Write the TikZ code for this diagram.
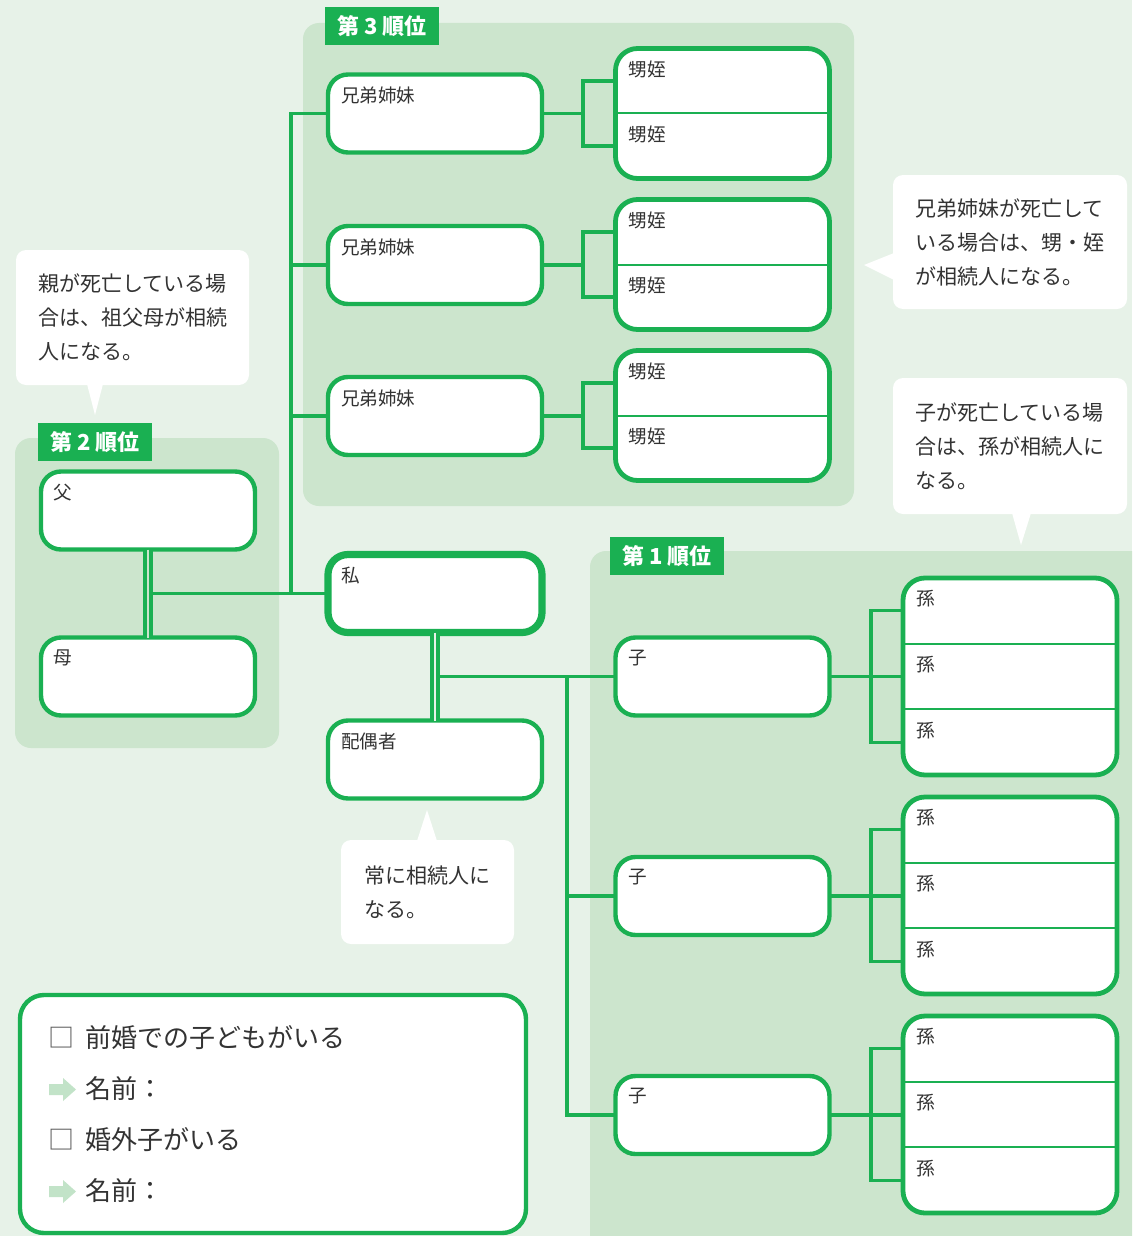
\documentclass[tikz,border=0pt]{standalone}
\usepackage{fontspec}
\setmainfont{Noto Sans CJK JP}
\usetikzlibrary{positioning,calc}

\definecolor{bgcol}{HTML}{E7F2E8}
\definecolor{panelcol}{HTML}{CCE5CD}
\definecolor{linecol}{HTML}{1AB052}
\definecolor{inkcol}{HTML}{333333}
\definecolor{arrowcol}{HTML}{C2E3C8}
\definecolor{chkcol}{HTML}{555555}

\begin{document}
\begin{tikzpicture}[x=0.5pt,y=-0.5pt,
    panel/.style={fill=panelcol, rounded corners=8pt},
    rank/.style={fill=linecol, text=white, font=\fontsize{11}{13}\selectfont\bfseries,
      minimum width=57pt, minimum height=19pt, inner sep=0pt},
    nametag/.style={anchor=north west, inner sep=0pt, xshift=6.3pt, yshift=-6pt,
      font=\fontsize{9.3}{11}\selectfont, text=inkcol},
    person/.style={draw=linecol, line width=2.2pt, fill=white, rounded corners=10pt,
      minimum width=107pt, minimum height=39pt, inner sep=0pt, outer sep=0pt,
      label={[nametag]north west:#1}},
    groupbox/.style={draw=linecol, line width=2.4pt, fill=white, rounded corners=11pt,
      minimum width=107pt, inner sep=0pt, outer sep=0pt},
    cell/.style={minimum width=107pt, minimum height=32.5pt, inner sep=0pt, outer sep=0pt,
      label={[nametag]north west:#1}},
    divider/.style={draw=linecol, line width=1pt},
    link/.style={draw=linecol, line width=1.6pt},
    couple/.style={draw=linecol, line width=1.7pt, double distance=1.3pt},
    note/.style={fill=white, rounded corners=5pt, inner sep=0pt, align=left,
      text=inkcol, font=\fontsize{10.5}{17}\selectfont},
    legendline/.style={anchor=west, inner sep=0pt, text=inkcol, font=\fontsize{13}{15}\selectfont}
  ]

    % Background and panels
    \fill[bgcol] (0,0) rectangle (1132,1236);
    \clip (0,0) rectangle (1132,1236);
    \fill[panel] (303,23) rectangle (854,506);
    \fill[panel] (15,438) rectangle (279,748);
    \fill[panel] (590,551) rectangle (1160,1270);

    % Rank labels
    \node[rank] (rank3) at (382,26) {第 3 順位};
    \node[rank] (rank2) at (95,442) {第 2 順位};
    \node[rank] (rank1) at (667,556) {第 1 順位};

    % Siblings
    \node[person=兄弟姉妹] (sib1) at (435,113.5) {};
    \node[person=兄弟姉妹] (sib2) at (435,265) {};
    \node[person=兄弟姉妹] (sib3) at (435,416) {};

    % Nephews and nieces
    \foreach \i/\y in {1/113.5,2/264.5,3/415.5} {
      \node[groupbox, minimum height=65pt] (nep\i) at (722.5,\y) {};
      \node[cell=甥姪, anchor=north] (nep\i a) at (nep\i.north) {};
      \node[cell=甥姪, anchor=north] (nep\i b) at (nep\i a.south) {};
      \draw[divider] (nep\i a.south west) -- (nep\i a.south east);
    }

    % Parents
    \node[person=父] (father) at (148,510.5) {};
    \node[person=母] (mother) at (148,676.5) {};

    % Me and spouse
    \node[person=私, line width=3.6pt] (me) at (435,593.5) {};
    \node[person=配偶者] (spouse) at (435,759.5) {};

    % Children
    \node[person=子] (kid1) at (722.5,676.5) {};
    \node[person=子] (kid2) at (722.5,896) {};
    \node[person=子] (kid3) at (722.5,1115) {};

    % Grandchildren
    \foreach \i/\y in {1/676.5,2/895.5,3/1114.5} {
      \node[groupbox, minimum height=98.5pt] (gc\i) at (1010,\y) {};
      \node[cell=孫, anchor=north, minimum height=32.83pt] (gc\i a) at (gc\i.north) {};
      \node[cell=孫, anchor=north, minimum height=32.83pt] (gc\i b) at (gc\i a.south) {};
      \node[cell=孫, anchor=north, minimum height=32.83pt] (gc\i c) at (gc\i b.south) {};
      \draw[divider] (gc\i a.south west) -- (gc\i a.south east);
      \draw[divider] (gc\i b.south west) -- (gc\i b.south east);
    }

    % Bus lines
    \coordinate (sibbus) at (291,0);
    \coordinate (kidbus) at (567,0);
    \coordinate (nepbus) at (583,0);
    \coordinate (gcbus) at (871,0);

    % Parents to me, me to siblings
    \draw[link] (father.south |- me.west) -- (me.west);
    \draw[link] (sib1.west) -- (sib1.west -| sibbus) -- (me.west -| sibbus);
    \draw[link] (sib2.west) -- (sib2.west -| sibbus);
    \draw[link] (sib3.west) -- (sib3.west -| sibbus);
    \draw[couple, double=panelcol] (father.south) -- (mother.north);

    % Siblings to nephews
    \foreach \i in {1,2,3} {
      \draw[link] (sib\i.east) -- (sib\i.east -| nepbus);
      \draw[link] (nep\i a.west) -- (nep\i a.west -| nepbus) -- (nep\i b.west -| nepbus) -- (nep\i b.west);
    }

    % Me to children
    \draw[link] (me.south |- kid1.west) -- (kid1.west);
    \draw[link] (kid1.west -| kidbus) -- (kid3.west -| kidbus) -- (kid3.west);
    \draw[link] (kid2.west -| kidbus) -- (kid2.west);
    \draw[couple, double=bgcol] (me.south) -- (spouse.north);

    % Children to grandchildren
    \foreach \i in {1,2,3} {
      \draw[link] (kid\i.east) -- (kid\i.east -| gc\i.west);
      \draw[link] (gc\i a.west) -- (gc\i a.west -| gcbus) -- (gc\i c.west -| gcbus) -- (gc\i c.west);
    }

    % Notes
    \node[note, minimum width=116.5pt, minimum height=67.5pt] (note2) at (132.5,317.5)
      {親が死亡している場\\合は、祖父母が相続\\人になる。};
    \fill[white] (87,384) -- (103,384) -- (95,415) -- cycle;

    \node[note, minimum width=117pt, minimum height=67pt] (note3) at (1010,242)
      {兄弟姉妹が死亡して\\いる場合は、甥・姪\\が相続人になる。};
    \fill[white] (894,253) -- (894,280) -- (864,265) -- cycle;

    \node[note, minimum width=117pt, minimum height=68pt] (note1) at (1010,446)
      {子が死亡している場\\合は、孫が相続人に\\なる。};
    \fill[white] (1012,513) -- (1031,513) -- (1021,545) -- cycle;

    \node[note, minimum width=86.5pt, minimum height=52pt] (notesp) at (427.5,892)
      {常に相続人に\\なる。};
    \fill[white] (417,841) -- (437,841) -- (427,810) -- cycle;

    % Legend
    \node[draw=linecol, line width=2.2pt, fill=white, rounded corners=12pt,
      minimum width=253pt, minimum height=119pt] (legend) at (273,1114) {};
    \node[legendline, text=chkcol] (chk1) at (48,1038) {□};
    \node[legendline] (row1) at (85,1038) {前婚での子どもがいる};
    \fill[arrowcol] (49,1084) -- (63,1084) -- (63,1078) -- (76,1089.5) -- (63,1101) -- (63,1095) -- (49,1095) -- cycle;
    \node[legendline] (row2) at (85,1089) {名前：};
    \node[legendline, text=chkcol] (chk2) at (48,1140) {□};
    \node[legendline] (row3) at (85,1140) {婚外子がいる};
    \fill[arrowcol] (49,1186) -- (63,1186) -- (63,1180) -- (76,1191.5) -- (63,1203) -- (63,1197) -- (49,1197) -- cycle;
    \node[legendline] (row4) at (85,1191) {名前：};

\end{tikzpicture}
\end{document}
